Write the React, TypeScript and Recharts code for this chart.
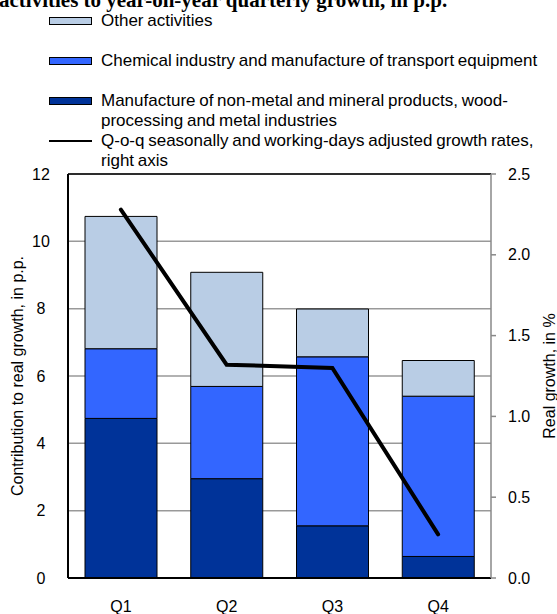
import React from 'react';
import { ComposedChart, Bar, Line, XAxis, YAxis, CartesianGrid, ReferenceLine } from 'recharts';

const quarters = ['Q1', 'Q2', 'Q3', 'Q4'];
// stacked contributions, in p.p. (bottom to top)
const metalWood = [4.74, 2.95, 1.55, 0.64];
const chemTransport = [2.07, 2.74, 5.02, 4.76];
const otherActivities = [3.93, 3.39, 1.42, 1.06];
// q-o-q growth, right axis
const qoqGrowth = [2.28, 1.32, 1.3, 0.27];

const leftTicks = [0, 2, 4, 6, 8, 10, 12];
const rightTicks = [0, 0.5, 1, 1.5, 2, 2.5];

const FONT = '"Liberation Sans", Arial, sans-serif';
const DARK = '#003399';
const MID = '#3366FF';
const LIGHT = '#B9CDE5';

const data = quarters.map((q, i) => ({
  q,
  metal: metalWood[i],
  chem: chemTransport[i],
  other: otherActivities[i],
  growth: qoqGrowth[i],
}));

const AxisTitle = ({ viewBox, value, cx }: any) => {
  const cy = viewBox.y + viewBox.height / 2;
  return (
    <text
      x={cx}
      y={cy}
      transform={`rotate(-90 ${cx} ${cy})`}
      textAnchor="middle"
      dominantBaseline="central"
      fontFamily={FONT}
      fontSize={16}
      fill="#000"
    >
      {value}
    </text>
  );
};

const LeftTick = ({ y, payload }: any) => (
  <text x={41} y={y} textAnchor="middle" dominantBaseline="central" fontFamily={FONT} fontSize={16} fill="#000">
    {payload.value}
  </text>
);

const Swatch = ({ color }: { color: string }) => (
  <div style={{ position: 'absolute', left: 0, top: -4, width: 41, height: 6, background: color, border: '1px solid #000' }} />
);

const legendRows = [
  { top: 21, swatch: LIGHT, lines: ['Other activities'] },
  { top: 61, swatch: MID, lines: ['Chemical industry and manufacture of transport equipment'] },
  { top: 101, swatch: DARK, lines: ['Manufacture of non-metal and mineral products, wood-', 'processing and metal industries'] },
  { top: 141, swatch: null, lines: ['Q-o-q seasonally and working-days adjusted growth rates,', 'right axis'] },
];

export default function App() {
  return (
    <div style={{ position: 'absolute', left: 0, top: 0, width: 557, height: 614, background: '#fff', overflow: 'hidden' }}>
      <div
        style={{
          position: 'absolute',
          left: -1,
          top: -10,
          fontFamily: '"Liberation Serif", "Times New Roman", serif',
          fontWeight: 'bold',
          fontSize: 21,
          lineHeight: '21px',
          whiteSpace: 'nowrap',
        }}
      >
        activities to year-on-year quarterly growth, in p.p.
      </div>

      {legendRows.map((r, i) => (
        <div key={i} style={{ position: 'absolute', left: 49, top: r.top, fontFamily: FONT, fontSize: 17, wordSpacing: -1 }}>
          {r.swatch ? (
            <Swatch color={r.swatch} />
          ) : (
            <div style={{ position: 'absolute', left: 0, top: -1, width: 43, height: 1.5, background: '#000' }} />
          )}
          {r.lines.map((t, j) => (
            <div
              key={j}
              style={{ position: 'absolute', left: 52, top: j * 19.5 - 10, lineHeight: '20px', whiteSpace: 'nowrap' }}
            >
              {t}
            </div>
          ))}
        </div>
      ))}

      <ComposedChart
        width={557}
        height={614}
        data={data}
        margin={{ top: 174, right: 0, bottom: 0, left: 0 }}
        style={{ position: 'absolute', left: 0, top: 0 }}
      >
        <CartesianGrid yAxisId="left" vertical={false} stroke="#999" strokeWidth={1.5} />
        <XAxis
          dataKey="q"
          height={36}
          axisLine={{ stroke: '#000', strokeWidth: 2 }}
          tickLine={false}
          tickSize={0}
          tickMargin={23}
          tick={{ fontFamily: FONT, fontSize: 16, fill: '#000' }}
        />
        <YAxis
          yAxisId="left"
          width={68}
          domain={[0, 12]}
          ticks={leftTicks}
          axisLine={{ stroke: '#000', strokeWidth: 2 }}
          tickLine={false}
          tick={<LeftTick />}
          label={<AxisTitle cx={17} value="Contribution to real growth, in p.p." />}
        />
        <YAxis
          yAxisId="right"
          orientation="right"
          width={66}
          domain={[0, 2.5]}
          ticks={rightTicks}
          axisLine={{ stroke: '#888', strokeWidth: 1.5 }}
          tickLine={{ stroke: '#888', strokeWidth: 1.5 }}
          tickSize={5}
          tickMargin={12}
          tickFormatter={(v: number) => v.toFixed(1)}
          tick={{ fontFamily: FONT, fontSize: 16, fill: '#000' }}
          label={<AxisTitle cx={549} value="Real growth, in %" />}
        />
        <ReferenceLine yAxisId="left" y={12} stroke="#000" strokeWidth={1.5} />
        <Bar yAxisId="left" dataKey="metal" stackId="s" fill={DARK} stroke="#000" strokeWidth={1} barSize={72} isAnimationActive={false} />
        <Bar yAxisId="left" dataKey="chem" stackId="s" fill={MID} stroke="#000" strokeWidth={1} barSize={72} isAnimationActive={false} />
        <Bar yAxisId="left" dataKey="other" stackId="s" fill={LIGHT} stroke="#000" strokeWidth={1} barSize={72} isAnimationActive={false} />
        <Line
          yAxisId="right"
          dataKey="growth"
          type="linear"
          stroke="#000"
          strokeWidth={4}
          strokeLinecap="round"
          dot={false}
          isAnimationActive={false}
        />
      </ComposedChart>
    </div>
  );
}
